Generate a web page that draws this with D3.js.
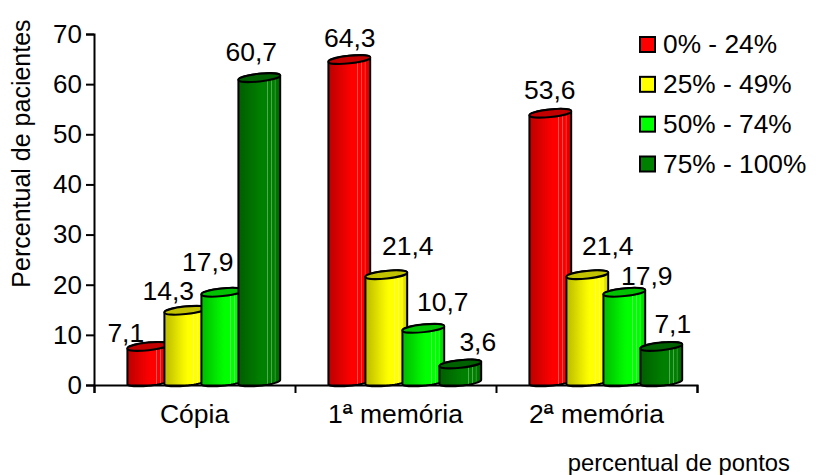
<!DOCTYPE html>
<html>
<head>
<meta charset="utf-8">
<script src="https://cdn.jsdelivr.net/npm/d3@7"></script>
<style>
html,body{margin:0;padding:0;background:#fff}
text{font-family:"Liberation Sans",Arial,sans-serif;fill:#000}
</style>
</head>
<body>
<svg id="chart" width="818" height="475"></svg>
<script>
const groups = ["Cópia", "1ª memória", "2ª memória"];
const seriesNames = ["0% - 24%", "25% - 49%", "50% - 74%", "75% - 100%"];
const copia = [7.1, 14.3, 17.9, 60.7];
const memoria1 = [64.3, 21.4, 10.7, 3.6];
const memoria2 = [53.6, 21.4, 17.9, 7.1];
const yTicks = [0, 10, 20, 30, 40, 50, 60, 70];
const seriesColors = ["#ff0000", "#ffff00", "#00ff00", "#008000"];
const yTitle = "Percentual de pacientes";
const xTitle = "percentual de pontos";

// Hand-placed value labels: offsets from the centre of each cylinder top.
const labelShiftX = [[-22.5, -17, -14.5, -8], [0.5, 21.5, 19.5, 17.5], [-0.5, 20.5, 22.5, 11.5]];
const labelShiftY = [[-13, -19, -30, -26], [-22, -29, -26, -22], [-23, -29, -16, -22]];

const values = [copia, memoria1, memoria2];
const svg = d3.select("#chart");

const y = d3.scaleLinear().domain([0, 70]).range([385, 34]);
const x0 = d3.scaleBand().domain(groups).range([94, 697]);
const x1 = d3.scaleBand().domain(seriesNames).range([33, 181]);
const barW = x1.bandwidth() + 5;
const rx = barW / 2, ry = 3.8, tiltDeg = -6, tilt = tiltDeg * Math.PI / 180;
const depth = 3;

// Outline of the tilted ellipse between two parameter angles.
function ellipseArc(cx, cy, from, to) {
  return d3.range(0, 25).map(i => {
    const t = from + (to - from) * i / 24;
    const ex = rx * Math.cos(t), ey = ry * Math.sin(t);
    return [cx + ex * Math.cos(tilt) - ey * Math.sin(tilt),
            cy + ex * Math.sin(tilt) + ey * Math.cos(tilt)];
  });
}
const outline = d3.line();

// Banded horizontal shading on each cylinder: dark left edge, pale streaks, dim right side.
const defs = svg.append("defs");
const shadeStops = [
  [0, .74], [.1, .78], [.22, .84], [.34, .9], [.46, .96], [.56, 1], [.68, 1], [.7, 1.4], [.72, 1],
  [.77, 1], [.79, 1.35], [.81, 1], [.86, .98], [.88, 1.25], [.9, .92], [1, .8]
];
function shade(col, k) {
  const c = d3.rgb(col);
  if (k <= 1) return d3.rgb(c.r * k, c.g * k, c.b * k).formatHex();
  const t = (k - 1);
  return d3.rgb(c.r + (255 - c.r) * t, c.g + (255 - c.g) * t, c.b + (255 - c.b) * t).formatHex();
}
seriesColors.forEach((col, i) => {
  const g = defs.append("linearGradient").attr("id", "cyl" + i);
  shadeStops.forEach(s => g.append("stop").attr("offset", s[0]).attr("stop-color", shade(col, s[1])));
});

// Cylinders: body first, then the tilted top ellipse; later series overlap earlier ones.
groups.forEach((grp, gi) => {
  seriesNames.forEach((s, si) => {
    const v = values[gi][si];
    const cx = x0(grp) + x1(s) + x1.bandwidth() / 2 + 2.8;
    const top = y(v) - depth, base = y(0) - depth;
    // Lower half of the base ellipse (left to right), then upper half of the top one (right to left).
    const pts = ellipseArc(cx, base, Math.PI, 0).concat(ellipseArc(cx, top, 0, -Math.PI));
    svg.append("path").attr("d", outline(pts) + "Z").attr("fill", `url(#cyl${si})`)
      .attr("stroke", "#000").attr("stroke-width", 2).attr("stroke-linejoin", "round");
    svg.append("ellipse").attr("cx", cx).attr("cy", top).attr("rx", rx).attr("ry", ry)
      .attr("transform", `rotate(${tiltDeg} ${cx} ${top})`)
      .attr("fill", shade(seriesColors[si], .76))
      .attr("stroke", "#000").attr("stroke-width", 2);
    svg.append("text").attr("x", cx + labelShiftX[gi][si]).attr("y", top + labelShiftY[gi][si] + 9)
      .attr("text-anchor", "middle").attr("font-size", 26.5).text(String(v).replace(".", ","));
  });
});

// Axes
const axisY = d3.axisLeft(y).tickValues(yTicks).tickSize(8).tickPadding(4);
const gy = svg.append("g").attr("transform", "translate(94,0)").call(axisY);
gy.selectAll("text").attr("font-size", 26).attr("font-family", "Liberation Sans");
const axisX = d3.axisBottom(d3.scaleLinear().domain([0, 3]).range([94, 697])).tickValues([0, 1, 2, 3]).tickSize(8).tickFormat("");
const gx = svg.append("g").attr("transform", "translate(0,385)").call(axisX);
[gy, gx].forEach(a => {
  a.selectAll("path,line").attr("stroke", "#000").attr("stroke-width", 2);
});

// Category names; the ordinal indicator carries a short rule beneath it.
groups.forEach(grp => {
  const label = svg.append("text").attr("x", x0(grp) + x0.bandwidth() / 2).attr("y", 423)
    .attr("text-anchor", "middle").attr("font-size", 26.5).text(grp);
  const ord = grp.indexOf("ª");
  if (ord >= 0) {
    const box = label.node().getExtentOfChar(ord);
    svg.append("line").attr("x1", box.x + 1).attr("x2", box.x + box.width - 1)
      .attr("y1", 412).attr("y2", 412).attr("stroke", "#000").attr("stroke-width", 1.4);
  }
});

svg.append("text").attr("transform", "translate(30,153.5) rotate(-90)")
  .attr("text-anchor", "middle").attr("font-size", 25).text(yTitle);
svg.append("text").attr("x", 790).attr("y", 471).attr("text-anchor", "end")
  .attr("font-size", 23.8).text(xTitle);

// Legend
const legendY = d3.scalePoint().domain(seriesNames).range([44.5, 164]);
seriesNames.forEach((s, i) => {
  svg.append("rect").attr("x", 640).attr("y", legendY(s) - 7.5).attr("width", 15).attr("height", 15)
    .attr("fill", seriesColors[i]).attr("stroke", "#000").attr("stroke-width", 2);
  svg.append("text").attr("x", 663).attr("y", legendY(s) + 8.7).attr("font-size", 26.3).text(s);
});
</script>
</body>
</html>
